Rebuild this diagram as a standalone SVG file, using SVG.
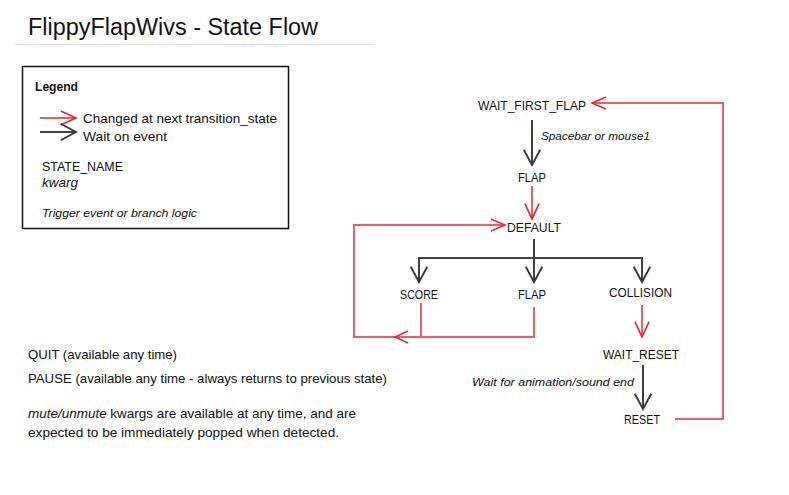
<svg xmlns="http://www.w3.org/2000/svg" width="789" height="495" viewBox="0 0 789 495">
<defs>
<style>
text{font-family:"Liberation Sans",Arial,sans-serif;font-size:13.3px;fill:#111}
.it{font-style:italic}
.sm{font-size:11.5px}
.blk{stroke:#404040;stroke-width:2;fill:none}
.red{stroke:#e8262e;stroke-width:1.5;fill:none}
.loop{stroke:#ee5d67;stroke-width:2;fill:none}
</style>
<marker id="ab" markerUnits="userSpaceOnUse" markerWidth="20" markerHeight="20" viewBox="-15 -8 17 16" refX="0" refY="0" orient="auto">
<path d="M-13,-7 L0,0 L-13,7" fill="none" stroke="#383838" stroke-width="1.6"/>
</marker>
<marker id="ar" markerUnits="userSpaceOnUse" markerWidth="20" markerHeight="20" viewBox="-15 -8 17 16" refX="0" refY="0" orient="auto">
<path d="M-13,-6 L0,0 L-13,6" fill="none" stroke="#e8262e" stroke-width="1.4"/>
</marker>
</defs>
<rect width="789" height="495" fill="#fff"/>

<g id="title">
<text x="28" y="35" style="font-size:23.5px" textLength="290" lengthAdjust="spacingAndGlyphs">FlippyFlapWivs - State Flow</text>
<line x1="15" y1="44.5" x2="375" y2="44.5" stroke="#dedede" stroke-width="1"/>
</g>

<g id="legend">
<rect x="22.5" y="66.5" width="266" height="162" fill="none" stroke="#111" stroke-width="1.5"/>
<text x="35" y="91" style="font-weight:bold;font-size:13px" textLength="43" lengthAdjust="spacingAndGlyphs">Legend</text>
<line class="red" x1="40" y1="118" x2="76" y2="118" marker-end="url(#ar)"/>
<text x="83" y="123" textLength="194" lengthAdjust="spacingAndGlyphs">Changed at next transition_state</text>
<line class="blk" x1="40" y1="132" x2="76" y2="132" stroke-width="1.4" marker-end="url(#ab)"/>
<text x="83" y="141" textLength="84" lengthAdjust="spacingAndGlyphs">Wait on event</text>
<text x="42" y="171" textLength="81" lengthAdjust="spacingAndGlyphs">STATE_NAME</text>
<text x="42" y="187" class="it" textLength="36" lengthAdjust="spacingAndGlyphs">kwarg</text>
<text x="42" y="217" class="it sm" textLength="155" lengthAdjust="spacingAndGlyphs">Trigger event or branch logic</text>
</g>

<g id="notes">
<text x="28" y="358.5" textLength="149" lengthAdjust="spacingAndGlyphs">QUIT (available any time)</text>
<text x="28" y="383" textLength="359" lengthAdjust="spacingAndGlyphs">PAUSE (available any time - always returns to previous state)</text>
<text x="28" y="418" textLength="328" lengthAdjust="spacingAndGlyphs"><tspan class="it">mute/unmute</tspan> kwargs are available at any time, and are</text>
<text x="28" y="437" textLength="311" lengthAdjust="spacingAndGlyphs">expected to be immediately popped when detected.</text>
</g>

<g id="connectors">
<line class="blk" x1="532" y1="120" x2="532" y2="165" marker-end="url(#ab)"/>
<line class="red" x1="532" y1="186" x2="532" y2="219" marker-end="url(#ar)"/>
<line class="blk" x1="534" y1="239" x2="534" y2="282" marker-end="url(#ab)"/>
<polyline class="blk" points="419,282 419,258 642,258 642,282"/>
<line class="blk" x1="419" y1="265" x2="419" y2="282" marker-end="url(#ab)"/>
<line class="blk" x1="642" y1="265" x2="642" y2="282" marker-end="url(#ab)"/>
<polyline class="loop" points="534,307 534,337 354,337 354,225 505,225"/>
<path class="red" d="M491,219 L505,225 L491,231"/>
<line class="loop" x1="421" y1="303" x2="421" y2="337"/>
<path class="red" d="M408,331 L395,337 L408,343"/>
<line class="red" x1="642" y1="305" x2="642" y2="337" marker-end="url(#ar)"/>
<line class="blk" x1="643" y1="365" x2="643" y2="409" marker-end="url(#ab)"/>
<polyline class="loop" points="675,419 723,419 723,103 592,103"/>
<path class="red" d="M606,97 L592,103 L606,109"/>
<text x="541" y="140" class="it sm" textLength="109" lengthAdjust="spacingAndGlyphs">Spacebar or mouse1</text>
<text x="472" y="386" class="it sm" textLength="162" lengthAdjust="spacingAndGlyphs">Wait for animation/sound end</text>
</g>

<g id="wait_first_flap"><text x="478" y="110" textLength="108" lengthAdjust="spacingAndGlyphs">WAIT_FIRST_FLAP</text></g>
<g id="flap1"><text x="518" y="182" textLength="28" lengthAdjust="spacingAndGlyphs">FLAP</text></g>
<g id="default"><text x="507" y="232" textLength="54" lengthAdjust="spacingAndGlyphs">DEFAULT</text></g>
<g id="score"><text x="400" y="299" textLength="38" lengthAdjust="spacingAndGlyphs">SCORE</text></g>
<g id="flap2"><text x="518" y="299" textLength="28" lengthAdjust="spacingAndGlyphs">FLAP</text></g>
<g id="collision"><text x="609" y="297" textLength="63" lengthAdjust="spacingAndGlyphs">COLLISION</text></g>
<g id="wait_reset"><text x="603" y="359" textLength="76" lengthAdjust="spacingAndGlyphs">WAIT_RESET</text></g>
<g id="reset"><text x="624" y="424" textLength="36" lengthAdjust="spacingAndGlyphs">RESET</text></g>
</svg>
